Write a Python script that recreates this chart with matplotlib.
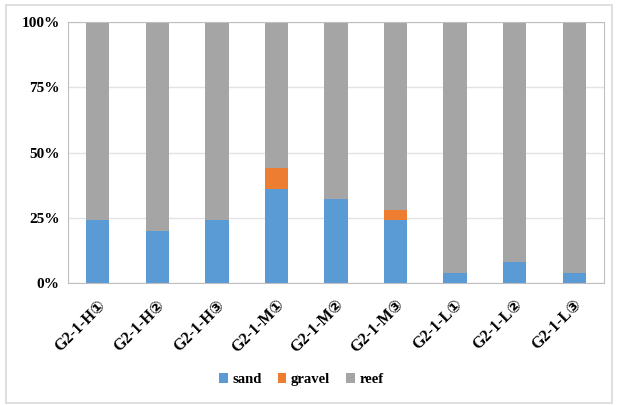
import matplotlib.pyplot as plt
import numpy as np
from matplotlib.patches import Rectangle

plt.rcParams['font.family'] = ['Liberation Serif', 'DejaVu Sans']
plt.rcParams['font.weight'] = 'bold'

samples = ['G2-1-H①', 'G2-1-H②', 'G2-1-H③', 'G2-1-M①', 'G2-1-M②',
           'G2-1-M③', 'G2-1-L①', 'G2-1-L②', 'G2-1-L③']
sand = [24, 20, 24, 36, 32, 24, 4, 8, 4]
gravel = [0, 0, 0, 8, 0, 4, 0, 0, 0]
reef = [100 - s - g for s, g in zip(sand, gravel)]

colors = {'sand': '#5B9BD5', 'gravel': '#ED7D31', 'reef': '#A5A5A5'}

fig = plt.figure(figsize=(6.17, 4.05), dpi=100)
ax = fig.add_axes([68 / 617, 1 - 283 / 405, (604 - 68) / 617, (283 - 22) / 405])

x = np.arange(len(samples))
w = 0.39
ax.bar(x, sand, w, color=colors['sand'], label='sand', zorder=2)
ax.bar(x, gravel, w, bottom=sand, color=colors['gravel'], label='gravel', zorder=2)
ax.bar(x, reef, w, bottom=np.add(sand, gravel), color=colors['reef'], label='reef', zorder=2)

ax.set_xlim(-0.5, len(samples) - 0.5)
ax.set_ylim(0, 100)
ax.set_yticks([0, 25, 50, 75, 100])
ax.set_yticklabels(['0%', '25%', '50%', '75%', '100%'], fontsize=11, fontweight='bold')
ax.set_xticks(x)
ax.set_xticklabels(samples, rotation=45, ha='right', rotation_mode='anchor',
                   fontsize=11.5, fontweight='bold')
ax.tick_params(length=0, pad=6)
ax.tick_params(axis='x', pad=10)
ax.grid(axis='y', color='#e3e3e3', linewidth=1, zorder=0)
for s in ax.spines.values():
    s.set_color('#bfbfbf')

leg = ax.legend(loc='center', bbox_to_anchor=(0.435, -0.37), ncol=3, frameon=False,
                prop={'family': 'Liberation Serif', 'weight': 'bold', 'size': 10.5},
                handlelength=0.6, handleheight=0.6, handletextpad=0.3, columnspacing=1.1)

fig.patches.append(Rectangle((6 / 617, 2 / 405), 606 / 617, 398 / 405, transform=fig.transFigure,
                             fill=False, edgecolor='#d9d9d9', linewidth=1.2))

fig.savefig('out.png', dpi=100)
